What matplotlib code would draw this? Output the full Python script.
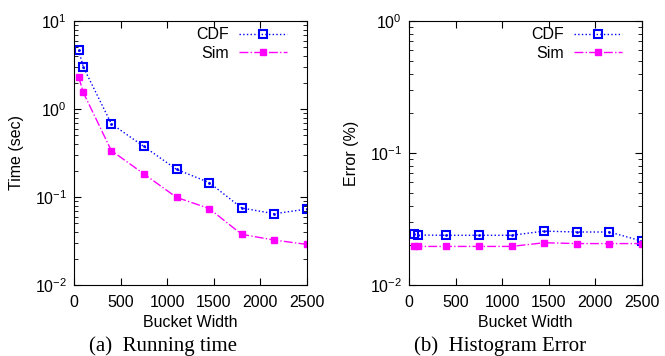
import numpy as np
import matplotlib.pyplot as plt
from matplotlib.ticker import LogLocator, NullFormatter, MultipleLocator

bucket_width = [50, 100, 400, 750, 1100, 1450, 1800, 2150, 2500]

# running time (sec)
time_cdf = [4.65, 3.0, 0.68, 0.375, 0.206, 0.146, 0.075, 0.0645, 0.073]
time_sim = [2.31, 1.54, 0.337, 0.183, 0.099, 0.074, 0.0376, 0.0324, 0.0289]

# histogram error (%)
err_cdf = [0.0243, 0.0239, 0.0238, 0.0238, 0.0238, 0.0256, 0.0252, 0.0252, 0.0215]
err_sim = [0.0199, 0.0196, 0.0196, 0.0196, 0.0196, 0.0209, 0.0206, 0.0206, 0.0206]

plt.rcParams['font.family'] = ['Liberation Sans', 'DejaVu Sans']
plt.rcParams['font.size'] = 11.5
plt.rcParams['mathtext.fontset'] = 'custom'
plt.rcParams['mathtext.rm'] = 'Liberation Sans'

FS = 11.5

fig = plt.figure(figsize=(6.65, 3.56), dpi=100)
ax1 = fig.add_axes([74 / 665, 1 - 285 / 356, 233 / 665, 264 / 356])
ax2 = fig.add_axes([409 / 665, 1 - 285 / 356, 233 / 665, 264 / 356])


def draw(ax, cdf, sim, ylim, ylabel, caption, cap_x):
    ax.plot(bucket_width, cdf, color='#0000ff', linestyle=':', linewidth=1,
            marker='s', markersize=5.5, markerfacecolor='none',
            markeredgewidth=1.5, label='CDF')
    ax.plot(bucket_width, cdf, linestyle='none', marker='.', markersize=2,
            color='#0000ff')
    ax.plot(bucket_width, sim, color='#ff00ff', linestyle='-.', linewidth=1,
            marker='s', markersize=5, label='Sim')
    ax.set_yscale('log')
    ax.set_ylim(*ylim)
    ax.set_xlim(0, 2500)
    ax.xaxis.set_major_locator(MultipleLocator(500))
    ax.yaxis.set_major_locator(LogLocator(base=10, numticks=10))
    ax.yaxis.set_minor_locator(LogLocator(base=10, subs=np.arange(2, 10), numticks=10))
    ax.yaxis.set_minor_formatter(NullFormatter())
    ax.tick_params(which='both', direction='in', top=True, right=True)
    ax.tick_params(which='major', length=5, labelsize=FS)
    ax.tick_params(axis='x', which='major', pad=7)
    ax.tick_params(axis='y', which='major', pad=5)
    ax.tick_params(which='minor', length=3)
    ax.set_xlabel('Bucket Width', fontsize=FS, labelpad=4)
    ax.set_ylabel(ylabel, fontsize=FS, labelpad=8)
    ax.legend(loc='upper right', bbox_to_anchor=(0.94, 1.0), frameon=False,
              markerfirst=False, fontsize=FS, handlelength=3.0,
              borderaxespad=0, labelspacing=0.2, handletextpad=0.6)
    fig.text(cap_x / 665, 1 - 351 / 356, caption, ha='center',
             va='baseline', fontsize=15, family='Liberation Serif')


draw(ax1, time_cdf, time_sim, (0.01, 10), 'Time (sec)', '(a)  Running time', 163)
draw(ax2, err_cdf, err_sim, (0.01, 1), 'Error (%)', '(b)  Histogram Error', 500)

fig.savefig('out.png', dpi=100)
